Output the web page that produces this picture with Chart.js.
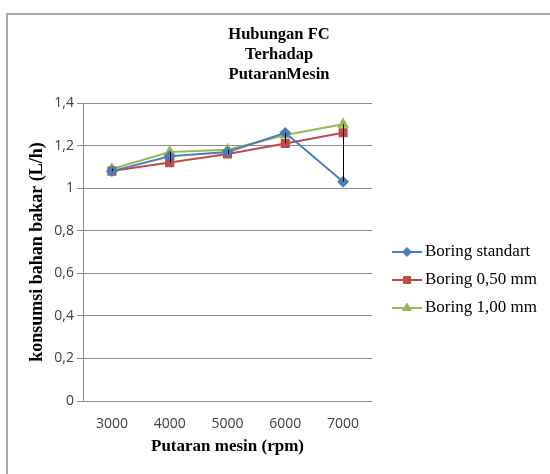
<!DOCTYPE html>
<html>
<head>
<meta charset="utf-8">
<script src="https://cdn.jsdelivr.net/npm/chart.js@4"></script>
<style>
  html, body { margin: 0; padding: 0; background: #fff; overflow: hidden; }
  #wrap { position: relative; width: 550px; height: 474px; }
  #frame { position: absolute; left: 6px; top: 13px; width: 560px; height: 480px; border: 2px solid #a6a6a6; box-sizing: border-box; }
  canvas { position: absolute; left: 0; top: 0; }
</style>
</head>
<body>
<div id="wrap">
  <div id="frame"></div>
  <canvas id="fcChart" width="550" height="474"></canvas>
</div>
<script>
// data
const rpm = ['3000', '4000', '5000', '6000', '7000'];
const boringStandart = [1.08, 1.15, 1.17, 1.26, 1.03];
const boring050 = [1.08, 1.12, 1.16, 1.21, 1.26];
const boring100 = [1.09, 1.17, 1.18, 1.25, 1.30];
const yTicks = [0, 0.2, 0.4, 0.6, 0.8, 1, 1.2, 1.4];
const titleLines = ['Hubungan FC', 'Terhadap', 'PutaranMesin'];

const serif = '"Liberation Serif", "Times New Roman", serif';
const sans = '"Open Sans", "Liberation Sans", sans-serif';

// black high-low lines between the series at each category
const highLowLines = {
  id: 'highLowLines',
  afterDatasetsDraw(chart) {
    const ctx = chart.ctx;
    const x = chart.scales.x, y = chart.scales.y;
    ctx.save();
    ctx.strokeStyle = '#000';
    ctx.lineWidth = 1;
    rpm.forEach((r, i) => {
      const vals = chart.data.datasets.map(d => d.data[i]);
      const px = Math.round(x.getPixelForValue(i)) + 0.5;
      ctx.beginPath();
      ctx.moveTo(px, y.getPixelForValue(Math.max(...vals)));
      ctx.lineTo(px, y.getPixelForValue(Math.min(...vals)));
      ctx.stroke();
    });
    ctx.restore();
  }
};

// title centred over the whole frame, not just the plot
const frameTitle = {
  id: 'frameTitle',
  afterDraw(chart) {
    const ctx = chart.ctx;
    ctx.save();
    ctx.fillStyle = '#000';
    ctx.font = 'bold 16.5px ' + serif;
    ctx.textAlign = 'center';
    ctx.textBaseline = 'middle';
    titleLines.forEach((t, i) => ctx.fillText(t, 279, 35 + i * 20));
    ctx.restore();
  }
};

// excel-like legend: line with marker, then the label
const sideLegend = {
  id: 'sideLegend',
  afterDraw(chart) {
    const ctx = chart.ctx;
    ctx.save();
    chart.data.datasets.forEach((ds, i) => {
      const cy = 252 + i * 28;
      ctx.strokeStyle = ds.borderColor;
      ctx.lineWidth = 2;
      ctx.beginPath();
      ctx.moveTo(392, cy);
      ctx.lineTo(422, cy);
      ctx.stroke();
      ctx.fillStyle = ds.pointBackgroundColor;
      ctx.strokeStyle = ds.pointBorderColor;
      ctx.lineWidth = 1;
      Chart.helpers.drawPoint(ctx, {
        pointStyle: ds.pointStyle, radius: ds.pointRadius, borderWidth: 1
      }, 407, cy);
      ctx.fillStyle = '#000';
      ctx.font = '17px ' + serif;
      ctx.textBaseline = 'middle';
      ctx.textAlign = 'left';
      ctx.fillText(ds.label, 425, cy);
    });
    ctx.restore();
  }
};

new Chart(document.getElementById('fcChart'), {
  type: 'line',
  data: {
    labels: rpm,
    datasets: [
      {
        label: 'Boring standart',
        data: boringStandart,
        borderColor: '#4a7ebb',
        pointBackgroundColor: '#4a7ebb',
        pointBorderColor: '#4a7ebb',
        pointStyle: 'rectRot',
        pointRadius: 4.5,
        borderWidth: 2
      },
      {
        label: 'Boring 0,50 mm',
        data: boring050,
        borderColor: '#be4b48',
        pointBackgroundColor: '#be4b48',
        pointBorderColor: '#be4b48',
        pointStyle: 'rect',
        pointRadius: 5,
        borderWidth: 2
      },
      {
        label: 'Boring 1,00 mm',
        data: boring100,
        borderColor: '#98b954',
        pointBackgroundColor: '#98b954',
        pointBorderColor: '#98b954',
        pointStyle: 'triangle',
        pointRadius: 5,
        borderWidth: 2
      }
    ]
  },
  options: {
    responsive: false,
    animation: false,
    layout: { padding: { left: 27, right: 178, top: 103, bottom: 13 } },
    plugins: {
      legend: { display: false },
      tooltip: { enabled: false },
      title: { display: false }
    },
    scales: {
      x: {
        offset: true,
        grid: { display: false },
        border: { display: false },
        ticks: { color: '#404040', font: { family: sans, size: 14 }, padding: 7 },
        title: {
          display: true,
          text: 'Putaran mesin (rpm)',
          color: '#000',
          font: { family: serif, size: 17, weight: 'bold' },
          padding: { top: 4, bottom: 4 }
        },
        afterFit(s) { s.height = 60; }
      },
      y: {
        min: 0,
        max: 1.4,
        afterBuildTicks(s) { s.ticks = yTicks.map(v => ({ value: v })); },
        grid: { color: '#8c8c8c', lineWidth: 1, tickLength: 6 },
        border: { display: true, color: '#8c8c8c' },
        ticks: {
          color: '#404040',
          font: { family: sans, size: 14 },
          padding: 3,
          callback: v => String(Number(v.toFixed(1))).replace('.', ',')
        },
        title: {
          display: true,
          text: 'konsumsi bahan bakar (L/h)',
          color: '#000',
          font: { family: serif, size: 18, weight: 'bold' },
          padding: { top: 0, bottom: 0 }
        },
        afterFit(s) { s.width = 56; }
      }
    }
  },
  plugins: [highLowLines, frameTitle, sideLegend]
});
</script>
</body>
</html>
